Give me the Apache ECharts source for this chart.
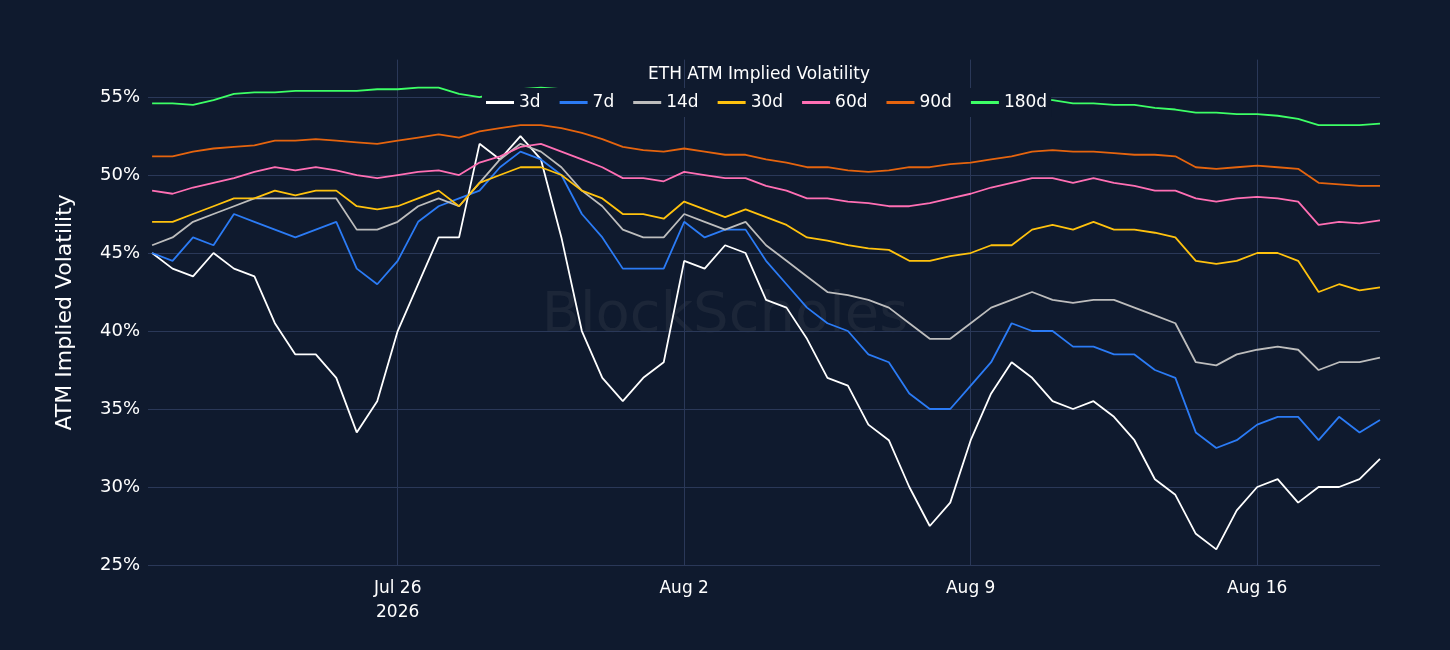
<!DOCTYPE html>
<html><head><meta charset="utf-8">
<script src="https://cdn.jsdelivr.net/npm/echarts@6/dist/echarts.min.js"></script>
<style>html,body{margin:0;background:#0f1a2e}#c{width:1450px;height:650px}</style>
</head><body><div id="c"></div>
<script>
// 12-hourly samples from Jul 20 2026 00:00 to Aug 19 2026 00:00
const startTime = Date.UTC(2026, 6, 20);
const seriesNames = ['3d', '7d', '14d', '30d', '60d', '90d', '180d'];
const colors = ['#ffffff', '#2b7bf5', '#bdbdbd', '#ffc20e', '#ff6fb4', '#e5640e', '#3dff66'];

const v3d = [45,44,43.5,45,44,43.5,40.5,38.5,38.5,37,33.5,35.5,40,43,46,46,52,51,52.5,51,46,40,37,35.5,37,38,44.5,44,45.5,45,42,41.5,39.5,37,36.5,34,33,30,27.5,29,33,36,38,37,35.5,35,35.5,34.5,33,30.5,29.5,27,26,28.5,30,30.5,29,30,30,30.5,31.8];
const v7d = [45,44.5,46,45.5,47.5,47,46.5,46,46.5,47,44,43,44.5,47,48,48.5,49,50.5,51.5,51,50,47.5,46,44,44,44,47,46,46.5,46.5,44.5,43,41.5,40.5,40,38.5,38,36,35,35,36.5,38,40.5,40,40,39,39,38.5,38.5,37.5,37,33.5,32.5,33,34,34.5,34.5,33,34.5,33.5,34.3];
const v14d = [45.5,46,47,47.5,48,48.5,48.5,48.5,48.5,48.5,46.5,46.5,47,48,48.5,48,49.5,51,52,51.5,50.5,49,48,46.5,46,46,47.5,47,46.5,47,45.5,44.5,43.5,42.5,42.3,42,41.5,40.5,39.5,39.5,40.5,41.5,42,42.5,42,41.8,42,42,41.5,41,40.5,38,37.8,38.5,38.8,39,38.8,37.5,38,38,38.3];
const v30d = [47,47,47.5,48,48.5,48.5,49,48.7,49,49,48,47.8,48,48.5,49,48,49.5,50,50.5,50.5,50,49,48.5,47.5,47.5,47.2,48.3,47.8,47.3,47.8,47.3,46.8,46,45.8,45.5,45.3,45.2,44.5,44.5,44.8,45,45.5,45.5,46.5,46.8,46.5,47,46.5,46.5,46.3,46,44.5,44.3,44.5,45,45,44.5,42.5,43,42.6,42.8];
const v60d = [49,48.8,49.2,49.5,49.8,50.2,50.5,50.3,50.5,50.3,50,49.8,50,50.2,50.3,50,50.8,51.2,51.8,52,51.5,51,50.5,49.8,49.8,49.6,50.2,50,49.8,49.8,49.3,49,48.5,48.5,48.3,48.2,48,48,48.2,48.5,48.8,49.2,49.5,49.8,49.8,49.5,49.8,49.5,49.3,49,49,48.5,48.3,48.5,48.6,48.5,48.3,46.8,47,46.9,47.1];
const v90d = [51.2,51.2,51.5,51.7,51.8,51.9,52.2,52.2,52.3,52.2,52.1,52,52.2,52.4,52.6,52.4,52.8,53,53.2,53.2,53,52.7,52.3,51.8,51.6,51.5,51.7,51.5,51.3,51.3,51,50.8,50.5,50.5,50.3,50.2,50.3,50.5,50.5,50.7,50.8,51,51.2,51.5,51.6,51.5,51.5,51.4,51.3,51.3,51.2,50.5,50.4,50.5,50.6,50.5,50.4,49.5,49.4,49.3,49.3];
const v180d = [54.6,54.6,54.5,54.8,55.2,55.3,55.3,55.4,55.4,55.4,55.4,55.5,55.5,55.6,55.6,55.2,55,55.3,55.5,55.6,55.5,55.3,55,55,55,55.1,55,55,54.9,54.9,54.9,55,55,55,55,55.1,55.2,55.2,55,54.9,54.8,54.8,54.9,54.9,54.8,54.6,54.6,54.5,54.5,54.3,54.2,54,54,53.9,53.9,53.8,53.6,53.2,53.2,53.2,53.3];
const yTicks = [25, 30, 35, 40, 45, 50, 55];
const xTickDates = [Date.UTC(2026,6,26), Date.UTC(2026,7,2), Date.UTC(2026,7,9), Date.UTC(2026,7,16)];

const allValues = [v3d, v7d, v14d, v30d, v60d, v90d, v180d];
const months = ['Jan','Feb','Mar','Apr','May','Jun','Jul','Aug','Sep','Oct','Nov','Dec'];
const font = 'DejaVu Sans';

const chart = echarts.init(document.getElementById('c'));
chart.setOption({
  backgroundColor: '#0f1a2e',
  animation: false,
  color: colors,
  title: {
    text: 'ETH ATM Implied Volatility', left: 754, top: 61, textAlign: 'center',
    textStyle: {color: '#fff', fontSize: 17, fontWeight: 'normal', fontFamily: font}
  },
  legend: {
    data: seriesNames, left: 482, top: 88, itemWidth: 28, itemHeight: 3, itemGap: 19,
    icon: 'rect', backgroundColor: '#0f1a2e', padding: [6, 4, 6, 4],
    textStyle: {color: '#fff', fontSize: 17, fontFamily: font}
  },
  graphic: [{
    type: 'text', left: 'center', top: 288, z: 0,
    style: {text: 'BlockScholes', fill: 'rgba(150,150,150,0.1)', font: '56px DejaVu Sans'}
  }],
  grid: {left: 148, right: 70, top: 59.6, bottom: 85},
  xAxis: {
    type: 'value',
    min: Date.UTC(2026,6,19,21,36), max: Date.UTC(2026,7,19,0,0),
    axisLine: {show: false}, axisTick: {show: false, customValues: xTickDates},
    splitLine: {show: true, lineStyle: {color: '#2a3858'}},
    axisLabel: {
      customValues: xTickDates, color: '#fff', fontSize: 17, fontFamily: font, margin: 12,
      lineHeight: 24,
      formatter: function (v) {
        const d = new Date(v);
        let s = months[d.getUTCMonth()] + ' ' + d.getUTCDate();
        if (v === xTickDates[0]) s += '\n' + d.getUTCFullYear();
        return s;
      }
    }
  },
  yAxis: {
    type: 'value', min: 25, max: 57.4,
    name: 'ATM Implied Volatility', nameLocation: 'middle', nameGap: 72,
    nameTextStyle: {color: '#fff', fontSize: 22, fontFamily: font},
    axisLine: {show: false}, axisTick: {show: false, customValues: yTicks},
    splitLine: {lineStyle: {color: '#2a3858'}},
    axisLabel: {
      color: '#fff', fontSize: 18, fontFamily: font,
      customValues: yTicks, formatter: v => v + '%'
    }
  },
  series: seriesNames.map((n, i) => ({
    name: n, type: 'line', showSymbol: false, z: 2,
    lineStyle: {width: 1.8},
    data: allValues[i].map((v, k) => [startTime + k * 12 * 3600 * 1000, v])
  }))
});
</script></body></html>
